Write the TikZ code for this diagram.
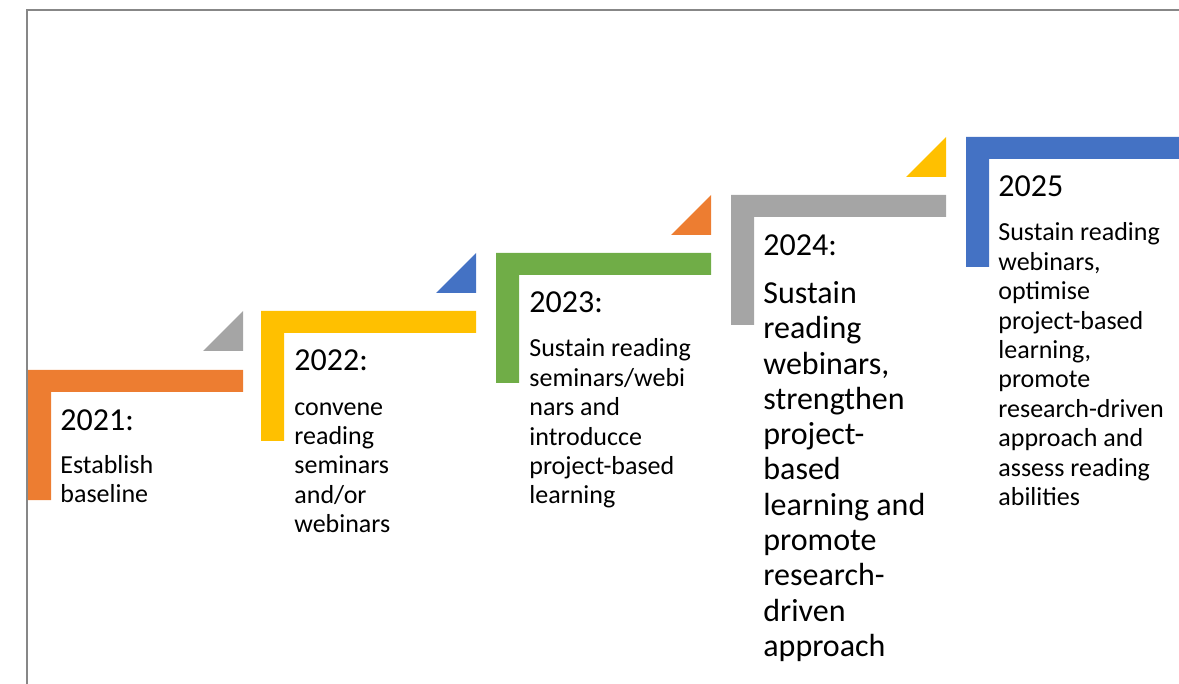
\documentclass[tikz,border=0pt]{standalone}
\usepackage{fontspec}
\setmainfont{Carlito}
\usetikzlibrary{positioning}
\definecolor{stepOrange}{RGB}{237, 125, 49}
\definecolor{stepYellow}{RGB}{255, 192, 0}
\definecolor{stepGreen}{RGB}{112, 173, 71}
\definecolor{stepGray}{RGB}{165, 165, 165}
\definecolor{stepBlue}{RGB}{68, 114, 196}
\definecolor{frameGray}{RGB}{135, 135, 135}

\begin{document}
\begin{tikzpicture}[x=0.5pt, y=-0.5pt,
        year/.style={anchor=base west, inner sep=0pt, font=\fontsize{16}{17.6}\selectfont},
        body/.style={anchor=north west, inner sep=0pt, align=left, execute at begin node=\strut, font=\fontsize{13}{14.7}\selectfont}]
        \useasboundingbox (0,0) rectangle (1179,684);
        \clip (0,0) rectangle (1179,684);

        % Frame
        \draw[frameGray, line width=0.9pt] (27,684) -- (27,10) -- (1179,10);

        % Steps
        \foreach \x/\y/\col in {28/370/stepOrange, 261/311/stepYellow, 496/253/stepGreen, 731/195/stepGray, 966/137/stepBlue} {
            \fill[\col] (\x,\y) -- ++(215,0) -- ++(0,22) -- ++(-192,0) -- ++(0,108) -- ++(-23,0) -- cycle;
        }

        % Triangles
        \foreach \x/\y/\col in {243/311/stepGray, 476/253/stepBlue, 711/195/stepOrange, 946/137/stepYellow} {
            \fill[\col] (\x,\y) -- ++(0,40) -- ++(-40,0) -- cycle;
        }

        % Texts
        \node[year] (y21) at (60,430) {2021:};
        \node[body] (t21) at (60,455) {Establish\\baseline};

        \node[year] (y22) at (294,371) {2022:};
        \node[body] (t22) at (294,402) {convene\\reading\\seminars\\and/or\\webinars};

        \node[year] (y23) at (529,313) {2023:};
        \node[body] (t23) at (529,338.5) {Sustain reading\\seminars/webi\\nars and\\introducce\\project-based\\learning};

        \node[year] (y24) at (763,256) {2024:};
        \node[body, font=\fontsize{16}{17.65}\selectfont] (t24) at (763,281) {Sustain\\reading\\webinars,\\strengthen\\project-\\based\\learning and\\promote\\research-\\driven\\approach};

        \node[year] (y25) at (998,197) {2025};
        \node[body] (t25) at (998,222.5) {Sustain reading\\webinars,\\optimise\\project-based\\learning,\\promote\\research-driven\\approach and\\assess reading\\abilities};
    \end{tikzpicture}
\end{document}
